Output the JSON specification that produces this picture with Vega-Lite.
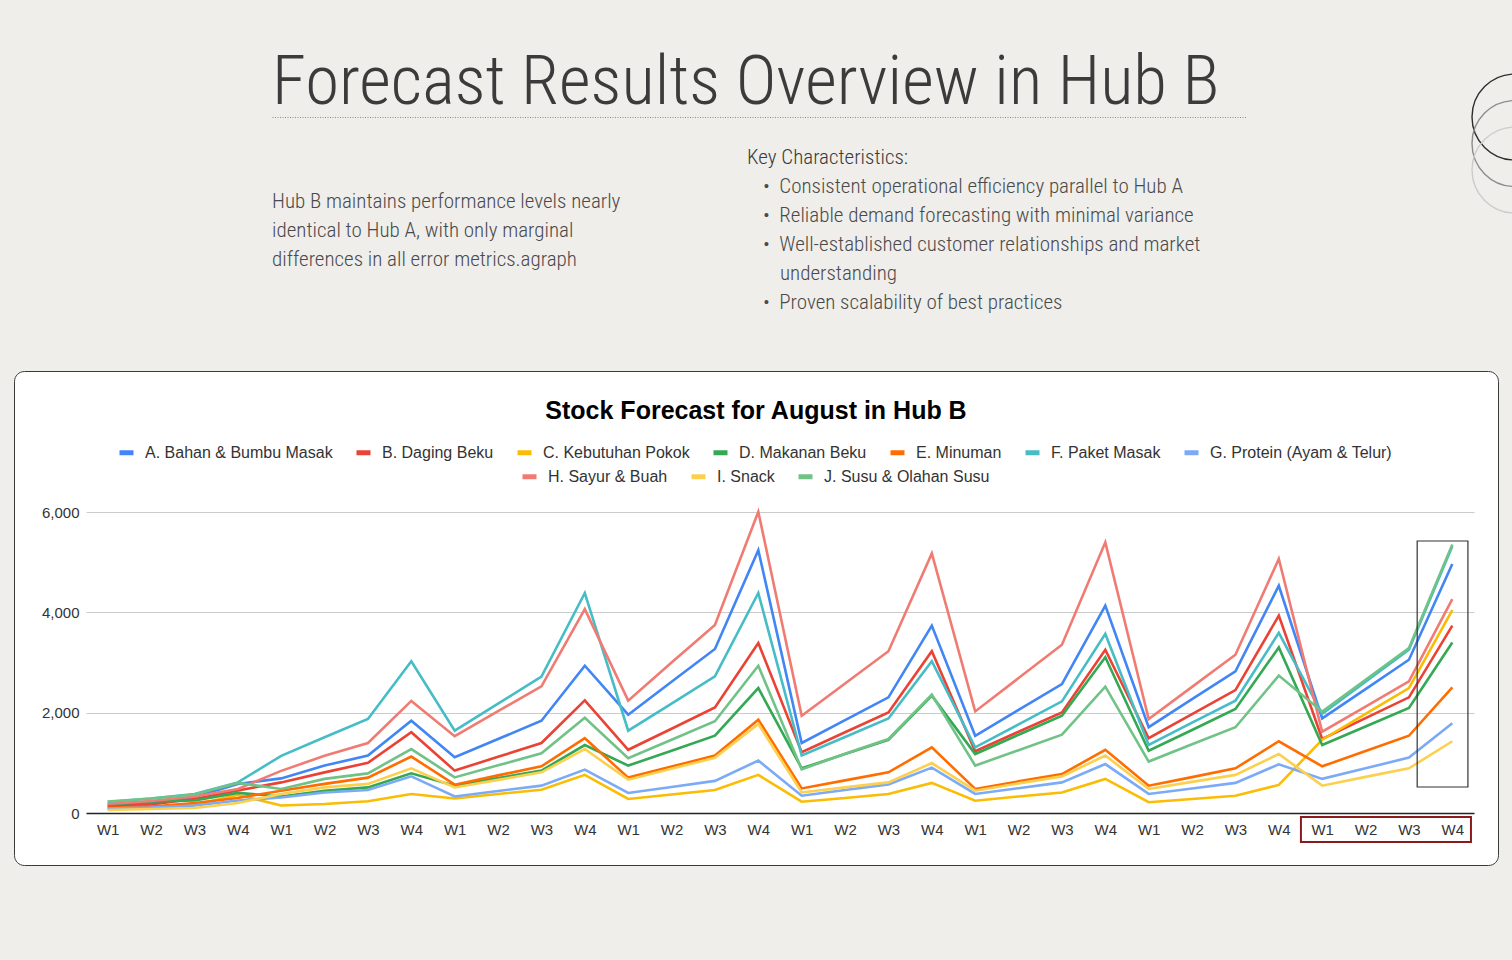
{
  "$schema": "https://vega.github.io/schema/vega-lite/v6.json",
  "background": "#efeeeb",
  "padding": {"left": 13, "top": 0, "right": 0, "bottom": 95},
  "config": {
    "view": {"stroke": null},
    "concat": {"spacing": 0},
    "font": "Liberation Sans"
  },
  "datasets": {
    "forecast": [
      {"w":0,"s":"A. Bahan & Bumbu Masak","v":150},{"w":1,"s":"A. Bahan & Bumbu Masak","v":200},{"w":2,"s":"A. Bahan & Bumbu Masak","v":320},{"w":3,"s":"A. Bahan & Bumbu Masak","v":580},{"w":4,"s":"A. Bahan & Bumbu Masak","v":690},{"w":5,"s":"A. Bahan & Bumbu Masak","v":945},{"w":6,"s":"A. Bahan & Bumbu Masak","v":1145},{"w":7,"s":"A. Bahan & Bumbu Masak","v":1840},{"w":8,"s":"A. Bahan & Bumbu Masak","v":1110},{"w":9,"s":"A. Bahan & Bumbu Masak","v":1475},{"w":10,"s":"A. Bahan & Bumbu Masak","v":1840},{"w":11,"s":"A. Bahan & Bumbu Masak","v":2935},{"w":12,"s":"A. Bahan & Bumbu Masak","v":1960},{"w":13,"s":"A. Bahan & Bumbu Masak","v":2615},{"w":14,"s":"A. Bahan & Bumbu Masak","v":3270},{"w":15,"s":"A. Bahan & Bumbu Masak","v":5240},{"w":16,"s":"A. Bahan & Bumbu Masak","v":1395},{"w":17,"s":"A. Bahan & Bumbu Masak","v":1850},{"w":18,"s":"A. Bahan & Bumbu Masak","v":2305},{"w":19,"s":"A. Bahan & Bumbu Masak","v":3735},{"w":20,"s":"A. Bahan & Bumbu Masak","v":1540},{"w":21,"s":"A. Bahan & Bumbu Masak","v":2055},{"w":22,"s":"A. Bahan & Bumbu Masak","v":2570},{"w":23,"s":"A. Bahan & Bumbu Masak","v":4135},{"w":24,"s":"A. Bahan & Bumbu Masak","v":1710},{"w":25,"s":"A. Bahan & Bumbu Masak","v":2270},{"w":26,"s":"A. Bahan & Bumbu Masak","v":2825},{"w":27,"s":"A. Bahan & Bumbu Masak","v":4530},{"w":28,"s":"A. Bahan & Bumbu Masak","v":1885},{"w":29,"s":"A. Bahan & Bumbu Masak","v":2470},{"w":30,"s":"A. Bahan & Bumbu Masak","v":3055},{"w":31,"s":"A. Bahan & Bumbu Masak","v":4965},
      {"w":0,"s":"B. Daging Beku","v":130},{"w":1,"s":"B. Daging Beku","v":170},{"w":2,"s":"B. Daging Beku","v":280},{"w":3,"s":"B. Daging Beku","v":450},{"w":4,"s":"B. Daging Beku","v":610},{"w":5,"s":"B. Daging Beku","v":810},{"w":6,"s":"B. Daging Beku","v":1000},{"w":7,"s":"B. Daging Beku","v":1610},{"w":8,"s":"B. Daging Beku","v":845},{"w":9,"s":"B. Daging Beku","v":1120},{"w":10,"s":"B. Daging Beku","v":1395},{"w":11,"s":"B. Daging Beku","v":2245},{"w":12,"s":"B. Daging Beku","v":1260},{"w":13,"s":"B. Daging Beku","v":1680},{"w":14,"s":"B. Daging Beku","v":2105},{"w":15,"s":"B. Daging Beku","v":3390},{"w":16,"s":"B. Daging Beku","v":1210},{"w":17,"s":"B. Daging Beku","v":1610},{"w":18,"s":"B. Daging Beku","v":2005},{"w":19,"s":"B. Daging Beku","v":3225},{"w":20,"s":"B. Daging Beku","v":1230},{"w":21,"s":"B. Daging Beku","v":1620},{"w":22,"s":"B. Daging Beku","v":2005},{"w":23,"s":"B. Daging Beku","v":3255},{"w":24,"s":"B. Daging Beku","v":1490},{"w":25,"s":"B. Daging Beku","v":1970},{"w":26,"s":"B. Daging Beku","v":2450},{"w":27,"s":"B. Daging Beku","v":3935},{"w":28,"s":"B. Daging Beku","v":1475},{"w":29,"s":"B. Daging Beku","v":1890},{"w":30,"s":"B. Daging Beku","v":2305},{"w":31,"s":"B. Daging Beku","v":3735},
      {"w":0,"s":"C. Kebutuhan Pokok","v":80},{"w":1,"s":"C. Kebutuhan Pokok","v":110},{"w":2,"s":"C. Kebutuhan Pokok","v":160},{"w":3,"s":"C. Kebutuhan Pokok","v":360},{"w":4,"s":"C. Kebutuhan Pokok","v":150},{"w":5,"s":"C. Kebutuhan Pokok","v":180},{"w":6,"s":"C. Kebutuhan Pokok","v":235},{"w":7,"s":"C. Kebutuhan Pokok","v":380},{"w":8,"s":"C. Kebutuhan Pokok","v":290},{"w":9,"s":"C. Kebutuhan Pokok","v":380},{"w":10,"s":"C. Kebutuhan Pokok","v":465},{"w":11,"s":"C. Kebutuhan Pokok","v":760},{"w":12,"s":"C. Kebutuhan Pokok","v":280},{"w":13,"s":"C. Kebutuhan Pokok","v":370},{"w":14,"s":"C. Kebutuhan Pokok","v":460},{"w":15,"s":"C. Kebutuhan Pokok","v":760},{"w":16,"s":"C. Kebutuhan Pokok","v":225},{"w":17,"s":"C. Kebutuhan Pokok","v":300},{"w":18,"s":"C. Kebutuhan Pokok","v":380},{"w":19,"s":"C. Kebutuhan Pokok","v":600},{"w":20,"s":"C. Kebutuhan Pokok","v":245},{"w":21,"s":"C. Kebutuhan Pokok","v":330},{"w":22,"s":"C. Kebutuhan Pokok","v":410},{"w":23,"s":"C. Kebutuhan Pokok","v":680},{"w":24,"s":"C. Kebutuhan Pokok","v":215},{"w":25,"s":"C. Kebutuhan Pokok","v":280},{"w":26,"s":"C. Kebutuhan Pokok","v":345},{"w":27,"s":"C. Kebutuhan Pokok","v":560},{"w":28,"s":"C. Kebutuhan Pokok","v":1460},{"w":29,"s":"C. Kebutuhan Pokok","v":1975},{"w":30,"s":"C. Kebutuhan Pokok","v":2490},{"w":31,"s":"C. Kebutuhan Pokok","v":4045},
      {"w":0,"s":"D. Makanan Beku","v":170},{"w":1,"s":"D. Makanan Beku","v":230},{"w":2,"s":"D. Makanan Beku","v":250},{"w":3,"s":"D. Makanan Beku","v":400},{"w":4,"s":"D. Makanan Beku","v":330},{"w":5,"s":"D. Makanan Beku","v":445},{"w":6,"s":"D. Makanan Beku","v":510},{"w":7,"s":"D. Makanan Beku","v":790},{"w":8,"s":"D. Makanan Beku","v":545},{"w":9,"s":"D. Makanan Beku","v":695},{"w":10,"s":"D. Makanan Beku","v":845},{"w":11,"s":"D. Makanan Beku","v":1355},{"w":12,"s":"D. Makanan Beku","v":945},{"w":13,"s":"D. Makanan Beku","v":1240},{"w":14,"s":"D. Makanan Beku","v":1540},{"w":15,"s":"D. Makanan Beku","v":2490},{"w":16,"s":"D. Makanan Beku","v":890},{"w":17,"s":"D. Makanan Beku","v":1175},{"w":18,"s":"D. Makanan Beku","v":1460},{"w":19,"s":"D. Makanan Beku","v":2340},{"w":20,"s":"D. Makanan Beku","v":1175},{"w":21,"s":"D. Makanan Beku","v":1560},{"w":22,"s":"D. Makanan Beku","v":1940},{"w":23,"s":"D. Makanan Beku","v":3105},{"w":24,"s":"D. Makanan Beku","v":1240},{"w":25,"s":"D. Makanan Beku","v":1655},{"w":26,"s":"D. Makanan Beku","v":2075},{"w":27,"s":"D. Makanan Beku","v":3300},{"w":28,"s":"D. Makanan Beku","v":1355},{"w":29,"s":"D. Makanan Beku","v":1725},{"w":30,"s":"D. Makanan Beku","v":2095},{"w":31,"s":"D. Makanan Beku","v":3400},
      {"w":0,"s":"E. Minuman","v":100},{"w":1,"s":"E. Minuman","v":130},{"w":2,"s":"E. Minuman","v":200},{"w":3,"s":"E. Minuman","v":300},{"w":4,"s":"E. Minuman","v":445},{"w":5,"s":"E. Minuman","v":580},{"w":6,"s":"E. Minuman","v":705},{"w":7,"s":"E. Minuman","v":1125},{"w":8,"s":"E. Minuman","v":565},{"w":9,"s":"E. Minuman","v":750},{"w":10,"s":"E. Minuman","v":930},{"w":11,"s":"E. Minuman","v":1490},{"w":12,"s":"E. Minuman","v":705},{"w":13,"s":"E. Minuman","v":925},{"w":14,"s":"E. Minuman","v":1145},{"w":15,"s":"E. Minuman","v":1860},{"w":16,"s":"E. Minuman","v":490},{"w":17,"s":"E. Minuman","v":650},{"w":18,"s":"E. Minuman","v":810},{"w":19,"s":"E. Minuman","v":1310},{"w":20,"s":"E. Minuman","v":480},{"w":21,"s":"E. Minuman","v":630},{"w":22,"s":"E. Minuman","v":775},{"w":23,"s":"E. Minuman","v":1260},{"w":24,"s":"E. Minuman","v":545},{"w":25,"s":"E. Minuman","v":715},{"w":26,"s":"E. Minuman","v":890},{"w":27,"s":"E. Minuman","v":1430},{"w":28,"s":"E. Minuman","v":930},{"w":29,"s":"E. Minuman","v":1235},{"w":30,"s":"E. Minuman","v":1540},{"w":31,"s":"E. Minuman","v":2505},
      {"w":0,"s":"F. Paket Masak","v":220},{"w":1,"s":"F. Paket Masak","v":290},{"w":2,"s":"F. Paket Masak","v":380},{"w":3,"s":"F. Paket Masak","v":610},{"w":4,"s":"F. Paket Masak","v":1140},{"w":5,"s":"F. Paket Masak","v":1510},{"w":6,"s":"F. Paket Masak","v":1875},{"w":7,"s":"F. Paket Masak","v":3025},{"w":8,"s":"F. Paket Masak","v":1640},{"w":9,"s":"F. Paket Masak","v":2180},{"w":10,"s":"F. Paket Masak","v":2720},{"w":11,"s":"F. Paket Masak","v":4385},{"w":12,"s":"F. Paket Masak","v":1640},{"w":13,"s":"F. Paket Masak","v":2180},{"w":14,"s":"F. Paket Masak","v":2725},{"w":15,"s":"F. Paket Masak","v":4385},{"w":16,"s":"F. Paket Masak","v":1145},{"w":17,"s":"F. Paket Masak","v":1515},{"w":18,"s":"F. Paket Masak","v":1885},{"w":19,"s":"F. Paket Masak","v":3025},{"w":20,"s":"F. Paket Masak","v":1310},{"w":21,"s":"F. Paket Masak","v":1765},{"w":22,"s":"F. Paket Masak","v":2225},{"w":23,"s":"F. Paket Masak","v":3570},{"w":24,"s":"F. Paket Masak","v":1355},{"w":25,"s":"F. Paket Masak","v":1800},{"w":26,"s":"F. Paket Masak","v":2240},{"w":27,"s":"F. Paket Masak","v":3590},{"w":28,"s":"F. Paket Masak","v":1975},{"w":29,"s":"F. Paket Masak","v":2615},{"w":30,"s":"F. Paket Masak","v":3255},{"w":31,"s":"F. Paket Masak","v":5315},
      {"w":0,"s":"G. Protein (Ayam & Telur)","v":90},{"w":1,"s":"G. Protein (Ayam & Telur)","v":110},{"w":2,"s":"G. Protein (Ayam & Telur)","v":150},{"w":3,"s":"G. Protein (Ayam & Telur)","v":250},{"w":4,"s":"G. Protein (Ayam & Telur)","v":310},{"w":5,"s":"G. Protein (Ayam & Telur)","v":410},{"w":6,"s":"G. Protein (Ayam & Telur)","v":460},{"w":7,"s":"G. Protein (Ayam & Telur)","v":730},{"w":8,"s":"G. Protein (Ayam & Telur)","v":330},{"w":9,"s":"G. Protein (Ayam & Telur)","v":440},{"w":10,"s":"G. Protein (Ayam & Telur)","v":545},{"w":11,"s":"G. Protein (Ayam & Telur)","v":865},{"w":12,"s":"G. Protein (Ayam & Telur)","v":400},{"w":13,"s":"G. Protein (Ayam & Telur)","v":520},{"w":14,"s":"G. Protein (Ayam & Telur)","v":640},{"w":15,"s":"G. Protein (Ayam & Telur)","v":1045},{"w":16,"s":"G. Protein (Ayam & Telur)","v":345},{"w":17,"s":"G. Protein (Ayam & Telur)","v":460},{"w":18,"s":"G. Protein (Ayam & Telur)","v":570},{"w":19,"s":"G. Protein (Ayam & Telur)","v":905},{"w":20,"s":"G. Protein (Ayam & Telur)","v":380},{"w":21,"s":"G. Protein (Ayam & Telur)","v":495},{"w":22,"s":"G. Protein (Ayam & Telur)","v":610},{"w":23,"s":"G. Protein (Ayam & Telur)","v":975},{"w":24,"s":"G. Protein (Ayam & Telur)","v":380},{"w":25,"s":"G. Protein (Ayam & Telur)","v":490},{"w":26,"s":"G. Protein (Ayam & Telur)","v":600},{"w":27,"s":"G. Protein (Ayam & Telur)","v":970},{"w":28,"s":"G. Protein (Ayam & Telur)","v":680},{"w":29,"s":"G. Protein (Ayam & Telur)","v":890},{"w":30,"s":"G. Protein (Ayam & Telur)","v":1105},{"w":31,"s":"G. Protein (Ayam & Telur)","v":1790},
      {"w":0,"s":"H. Sayur & Buah","v":180},{"w":1,"s":"H. Sayur & Buah","v":240},{"w":2,"s":"H. Sayur & Buah","v":330},{"w":3,"s":"H. Sayur & Buah","v":480},{"w":4,"s":"H. Sayur & Buah","v":840},{"w":5,"s":"H. Sayur & Buah","v":1140},{"w":6,"s":"H. Sayur & Buah","v":1395},{"w":7,"s":"H. Sayur & Buah","v":2235},{"w":8,"s":"H. Sayur & Buah","v":1530},{"w":9,"s":"H. Sayur & Buah","v":2030},{"w":10,"s":"H. Sayur & Buah","v":2525},{"w":11,"s":"H. Sayur & Buah","v":4065},{"w":12,"s":"H. Sayur & Buah","v":2240},{"w":13,"s":"H. Sayur & Buah","v":3000},{"w":14,"s":"H. Sayur & Buah","v":3750},{"w":15,"s":"H. Sayur & Buah","v":6005},{"w":16,"s":"H. Sayur & Buah","v":1940},{"w":17,"s":"H. Sayur & Buah","v":2580},{"w":18,"s":"H. Sayur & Buah","v":3225},{"w":19,"s":"H. Sayur & Buah","v":5175},{"w":20,"s":"H. Sayur & Buah","v":2025},{"w":21,"s":"H. Sayur & Buah","v":2690},{"w":22,"s":"H. Sayur & Buah","v":3355},{"w":23,"s":"H. Sayur & Buah","v":5395},{"w":24,"s":"H. Sayur & Buah","v":1875},{"w":25,"s":"H. Sayur & Buah","v":2515},{"w":26,"s":"H. Sayur & Buah","v":3155},{"w":27,"s":"H. Sayur & Buah","v":5065},{"w":28,"s":"H. Sayur & Buah","v":1620},{"w":29,"s":"H. Sayur & Buah","v":2120},{"w":30,"s":"H. Sayur & Buah","v":2625},{"w":31,"s":"H. Sayur & Buah","v":4265},
      {"w":0,"s":"I. Snack","v":60},{"w":1,"s":"I. Snack","v":80},{"w":2,"s":"I. Snack","v":100},{"w":3,"s":"I. Snack","v":200},{"w":4,"s":"I. Snack","v":380},{"w":5,"s":"I. Snack","v":510},{"w":6,"s":"I. Snack","v":580},{"w":7,"s":"I. Snack","v":890},{"w":8,"s":"I. Snack","v":510},{"w":9,"s":"I. Snack","v":660},{"w":10,"s":"I. Snack","v":810},{"w":11,"s":"I. Snack","v":1275},{"w":12,"s":"I. Snack","v":665},{"w":13,"s":"I. Snack","v":880},{"w":14,"s":"I. Snack","v":1100},{"w":15,"s":"I. Snack","v":1775},{"w":16,"s":"I. Snack","v":410},{"w":17,"s":"I. Snack","v":510},{"w":18,"s":"I. Snack","v":610},{"w":19,"s":"I. Snack","v":995},{"w":20,"s":"I. Snack","v":445},{"w":21,"s":"I. Snack","v":590},{"w":22,"s":"I. Snack","v":730},{"w":23,"s":"I. Snack","v":1145},{"w":24,"s":"I. Snack","v":480},{"w":25,"s":"I. Snack","v":620},{"w":26,"s":"I. Snack","v":760},{"w":27,"s":"I. Snack","v":1175},{"w":28,"s":"I. Snack","v":545},{"w":29,"s":"I. Snack","v":720},{"w":30,"s":"I. Snack","v":890},{"w":31,"s":"I. Snack","v":1430},
      {"w":0,"s":"J. Susu & Olahan Susu","v":230},{"w":1,"s":"J. Susu & Olahan Susu","v":290},{"w":2,"s":"J. Susu & Olahan Susu","v":370},{"w":3,"s":"J. Susu & Olahan Susu","v":600},{"w":4,"s":"J. Susu & Olahan Susu","v":480},{"w":5,"s":"J. Susu & Olahan Susu","v":680},{"w":6,"s":"J. Susu & Olahan Susu","v":790},{"w":7,"s":"J. Susu & Olahan Susu","v":1275},{"w":8,"s":"J. Susu & Olahan Susu","v":710},{"w":9,"s":"J. Susu & Olahan Susu","v":950},{"w":10,"s":"J. Susu & Olahan Susu","v":1190},{"w":11,"s":"J. Susu & Olahan Susu","v":1900},{"w":12,"s":"J. Susu & Olahan Susu","v":1090},{"w":13,"s":"J. Susu & Olahan Susu","v":1460},{"w":14,"s":"J. Susu & Olahan Susu","v":1830},{"w":15,"s":"J. Susu & Olahan Susu","v":2935},{"w":16,"s":"J. Susu & Olahan Susu","v":870},{"w":17,"s":"J. Susu & Olahan Susu","v":1180},{"w":18,"s":"J. Susu & Olahan Susu","v":1475},{"w":19,"s":"J. Susu & Olahan Susu","v":2360},{"w":20,"s":"J. Susu & Olahan Susu","v":945},{"w":21,"s":"J. Susu & Olahan Susu","v":1250},{"w":22,"s":"J. Susu & Olahan Susu","v":1560},{"w":23,"s":"J. Susu & Olahan Susu","v":2520},{"w":24,"s":"J. Susu & Olahan Susu","v":1025},{"w":25,"s":"J. Susu & Olahan Susu","v":1370},{"w":26,"s":"J. Susu & Olahan Susu","v":1710},{"w":27,"s":"J. Susu & Olahan Susu","v":2740},{"w":28,"s":"J. Susu & Olahan Susu","v":2020},{"w":29,"s":"J. Susu & Olahan Susu","v":2655},{"w":30,"s":"J. Susu & Olahan Susu","v":3290},{"w":31,"s":"J. Susu & Olahan Susu","v":5350}
    ],
    "summary": [
      {"line": 0, "text": "Hub B maintains performance levels nearly"},
      {"line": 1, "text": "identical to Hub A, with only marginal"},
      {"line": 2, "text": "differences in all error metrics.agraph"}
    ],
    "traits": [
      {"line": 0, "kind": "heading", "text": "Key Characteristics:"},
      {"line": 1, "kind": "bullet", "text": "•\u00a0\u00a0Consistent operational efficiency parallel to Hub A"},
      {"line": 2, "kind": "bullet", "text": "•\u00a0\u00a0Reliable demand forecasting with minimal variance"},
      {"line": 3, "kind": "bullet", "text": "•\u00a0\u00a0Well-established customer relationships and market"},
      {"line": 4, "kind": "continued", "text": "understanding"},
      {"line": 5, "kind": "bullet", "text": "•\u00a0\u00a0Proven scalability of best practices"}
    ]
  },
  "vconcat": [
    {
      "hconcat": [
        {"width": 255, "height": 369, "data": {"values": []}, "mark": "point"},
        {
          "vconcat": [
            {
              "width": 975, "height": 117,
              "layer": [
                {
                  "data": {"values": [{"t": 0}]},
                  "mark": {"type": "point", "opacity": 0},
                  "encoding": {
                    "x": {"field": "t", "type": "quantitative", "scale": {"domain": [0, 1]},
                      "axis": {"orient": "bottom", "labels": false, "ticks": false, "grid": false, "title": null, "domainDash": [1, 1.5], "domainColor": "#8a8a8a", "domainWidth": 1}}
                  }
                },
                {
                  "data": {"values": [{"heading": "Forecast Results Overview in Hub B"}]},
                  "mark": {"type": "text", "align": "left", "baseline": "alphabetic", "font": "Liberation Sans Narrow, Roboto Condensed, Arial Narrow, sans-serif", "fontSize": 69, "fontWeight": 300, "color": "#3b3b3b"},
                  "encoding": {"text": {"field": "heading"}, "x": {"value": 0}, "y": {"value": 104}}
                }
              ]
            },
            {
              "hconcat": [
                {
                  "width": 475, "height": 252,
                  "data": {"name": "summary"},
                  "mark": {"type": "text", "align": "left", "baseline": "alphabetic", "font": "Liberation Sans Narrow, Roboto Condensed, Arial Narrow, sans-serif", "fontSize": 21, "fontWeight": 300, "color": "#4a4a4a"},
                  "encoding": {
                    "text": {"field": "text"},
                    "x": {"value": 0},
                    "y": {"field": "line", "type": "quantitative", "scale": {"domain": [0, 2], "range": [90, 148]}, "axis": null}
                  }
                },
                {
                  "width": 500, "height": 252,
                  "data": {"name": "traits"},
                  "encoding": {
                    "text": {"field": "text"},
                    "x": {"value": 0},
                    "y": {"field": "line", "type": "quantitative", "scale": {"domain": [0, 5], "range": [46, 191]}, "axis": null}
                  },
                  "layer": [
                    {
                      "transform": [{"filter": "datum.kind === 'heading'"}],
                      "mark": {"type": "text", "align": "left", "baseline": "alphabetic", "font": "Liberation Sans Narrow, Roboto Condensed, Arial Narrow, sans-serif", "fontSize": 21, "fontWeight": 300, "color": "#3a3a3a"}
                    },
                    {
                      "transform": [{"filter": "datum.kind === 'bullet'"}],
                      "mark": {"type": "text", "align": "left", "baseline": "alphabetic", "dx": 16, "font": "Liberation Sans Narrow, Roboto Condensed, Arial Narrow, sans-serif", "fontSize": 21, "fontWeight": 300, "color": "#4a4a4a"}
                    },
                    {
                      "transform": [{"filter": "datum.kind === 'continued'"}],
                      "mark": {"type": "text", "align": "left", "baseline": "alphabetic", "dx": 33, "font": "Liberation Sans Narrow, Roboto Condensed, Arial Narrow, sans-serif", "fontSize": 21, "fontWeight": 300, "color": "#4a4a4a"}
                    }
                  ]
                }
              ]
            }
          ]
        },
        {
          "width": 269, "height": 369,
          "data": {"values": [{"ring": 1}, {"ring": 2}, {"ring": 3}]},
          "mark": {"type": "point", "filled": false, "size": 7396, "strokeWidth": 1.4, "opacity": 1, "clip": true},
          "encoding": {
            "x": {"datum": 1, "type": "quantitative", "scale": {"domain": [0, 1], "range": [0, 268]}, "axis": null},
            "y": {"field": "ring", "type": "quantitative", "scale": {"domain": [1, 3], "range": [117, 170]}, "axis": null},
            "stroke": {"field": "ring", "type": "nominal", "scale": {"domain": [1, 2, 3], "range": ["#2e2e2e", "#8c8c8c", "#cccccc"]}, "legend": null}
          }
        }
      ]
    },
    {
      "width": 1484, "height": 494,
      "view": {"fill": "#ffffff", "stroke": "#3a3a3a", "strokeWidth": 1, "cornerRadius": 10},
      "title": {"text": "Stock Forecast for August in Hub B", "orient": "top", "anchor": "middle", "frame": "group", "offset": -73, "baseline": "alphabetic", "font": "Liberation Sans", "fontSize": 25, "fontWeight": "bold", "color": "#000000"},
      "resolve": {"scale": {"stroke": "independent"}, "legend": {"stroke": "independent"}},
      "layer": [
        {
          "data": {"name": "forecast"},
          "transform": [{"filter": {"field": "s", "oneOf": ["A. Bahan & Bumbu Masak", "B. Daging Beku", "C. Kebutuhan Pokok", "D. Makanan Beku", "E. Minuman", "F. Paket Masak", "G. Protein (Ayam & Telur)"]}}],
          "mark": {"type": "line", "strokeWidth": 2.6},
          "encoding": {
            "x": {"field": "w", "type": "quantitative",
              "scale": {"domain": [-0.5, 31.5], "range": [72, 1460], "nice": false, "zero": false},
              "axis": {"orient": "bottom", "offset": -52, "values": [0,1,2,3,4,5,6,7,8,9,10,11,12,13,14,15,16,17,18,19,20,21,22,23,24,25,26,27,28,29,30,31], "labelExpr": "'W' + (datum.value % 4 + 1)", "title": null, "ticks": false, "grid": false, "domainColor": "#222222", "domainWidth": 1.3, "labelFont": "Liberation Sans", "labelFontSize": 15, "labelColor": "#333333", "labelPadding": 9, "labelAngle": 0, "labelOverlap": false, "labelFlush": false}},
            "y": {"field": "v", "type": "quantitative",
              "scale": {"domain": [0, 6000], "range": [442, 141], "nice": false, "zero": false},
              "axis": {"orient": "left", "offset": -72, "values": [0, 2000, 4000, 6000], "labelExpr": "format(datum.value, ',')", "title": null, "ticks": false, "domain": false, "grid": true, "gridColor": "#cccccc", "gridWidth": 1, "labelFont": "Liberation Sans", "labelFontSize": 15, "labelColor": "#333333", "labelPadding": 7}},
            "stroke": {"field": "s", "type": "nominal",
              "scale": {"domain": ["A. Bahan & Bumbu Masak", "B. Daging Beku", "C. Kebutuhan Pokok", "D. Makanan Beku", "E. Minuman", "F. Paket Masak", "G. Protein (Ayam & Telur)"], "range": ["#4285F4", "#EA4335", "#FBBC04", "#34A853", "#FF6D01", "#46BDC6", "#7BAAF7"]},
              "legend": {"orient": "none", "legendX": 103, "legendY": 72, "direction": "horizontal", "columns": 7, "title": null, "symbolType": "stroke", "symbolSize": 196, "symbolStrokeWidth": 5, "labelFont": "Liberation Sans", "labelFontSize": 16, "labelColor": "#333333", "labelOffset": 9, "columnPadding": 13, "padding": 0, "labelLimit": 400}}
          }
        },
        {
          "data": {"name": "forecast"},
          "transform": [{"filter": {"field": "s", "oneOf": ["H. Sayur & Buah", "I. Snack", "J. Susu & Olahan Susu"]}}],
          "mark": {"type": "line", "strokeWidth": 2.6},
          "encoding": {
            "x": {"field": "w", "type": "quantitative", "scale": {"domain": [-0.5, 31.5], "range": [72, 1460], "nice": false, "zero": false}, "axis": {"title": null}},
            "y": {"field": "v", "type": "quantitative", "scale": {"domain": [0, 6000], "range": [442, 141], "nice": false, "zero": false}, "axis": {"title": null}},
            "stroke": {"field": "s", "type": "nominal",
              "scale": {"domain": ["H. Sayur & Buah", "I. Snack", "J. Susu & Olahan Susu"], "range": ["#F07B72", "#FCD04F", "#71C287"]},
              "legend": {"orient": "none", "legendX": 506, "legendY": 96, "direction": "horizontal", "columns": 3, "title": null, "symbolType": "stroke", "symbolSize": 196, "symbolStrokeWidth": 5, "labelFont": "Liberation Sans", "labelFontSize": 16, "labelColor": "#333333", "labelOffset": 9, "columnPadding": 13, "padding": 0, "labelLimit": 400}}
          }
        },
        {
          "data": {"values": [{"from": 27.51, "to": 31.43, "low": -80, "high": -578}]},
          "mark": {"type": "rect", "fill": "transparent", "stroke": "#8b1a1a", "strokeWidth": 2},
          "encoding": {
            "x": {"field": "from", "type": "quantitative", "scale": {"domain": [-0.5, 31.5], "range": [72, 1460], "nice": false, "zero": false}, "axis": {"title": null}},
            "x2": {"field": "to"},
            "y": {"field": "low", "type": "quantitative", "scale": {"domain": [0, 6000], "range": [442, 141], "nice": false, "zero": false}, "axis": {"title": null}},
            "y2": {"field": "high"}
          }
        },
        {
          "data": {"values": [{"from": 30.19, "to": 31.36, "low": 518, "high": 5422}]},
          "mark": {"type": "rect", "fill": "transparent", "stroke": "#333333", "strokeWidth": 1.2},
          "encoding": {
            "x": {"field": "from", "type": "quantitative", "scale": {"domain": [-0.5, 31.5], "range": [72, 1460], "nice": false, "zero": false}, "axis": {"title": null}},
            "x2": {"field": "to"},
            "y": {"field": "low", "type": "quantitative", "scale": {"domain": [0, 6000], "range": [442, 141], "nice": false, "zero": false}, "axis": {"title": null}},
            "y2": {"field": "high"}
          }
        }
      ]
    }
  ]
}
